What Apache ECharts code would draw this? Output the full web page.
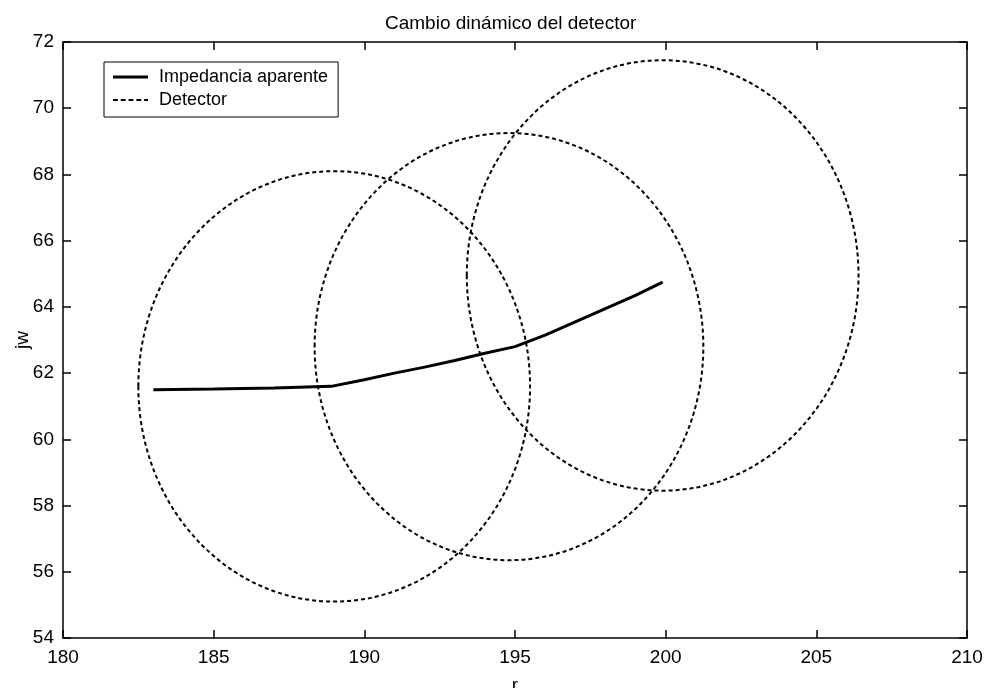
<!DOCTYPE html>
<html>
<head>
<meta charset="utf-8">
<script src="https://cdn.jsdelivr.net/npm/echarts@6/dist/echarts.min.js"></script>
<style>
  html, body { margin: 0; padding: 0; background: #fff; }
  #chart { width: 987px; height: 688px; }
</style>
</head>
<body>
<div id="chart"></div>
<script>
// Apparent impedance trajectory (r, jw)
const impedanciaR  = [183.0, 185.0, 187.0, 188.9, 190.0, 191.0, 192.0, 193.0, 194.0, 195.0, 196.0, 197.0, 198.0, 199.0, 199.9];
const impedanciaJw = [61.50, 61.52, 61.55, 61.60, 61.80, 62.00, 62.18, 62.38, 62.60, 62.80, 63.15, 63.55, 63.95, 64.35, 64.75];

// Detector characteristic circles: centre (r, jw) and radius
const detectorR      = [189.0, 194.8, 199.9];
const detectorJw     = [61.6, 62.8, 64.95];
const detectorRadius = [6.5, 6.45, 6.5];

// Axis ticks
const xTicks = [180, 185, 190, 195, 200, 205, 210];
const yTicks = [54, 56, 58, 60, 62, 64, 66, 68, 70, 72];

const FONT = '"Liberation Sans", Arial, sans-serif';
const FS = 19;

const lineData = impedanciaR.map((r, i) => [r, impedanciaJw[i]]);
const circleData = detectorR.map((r, i) => [r, detectorJw[i], detectorRadius[i]]);

const baseX = {
  type: 'value',
  min: xTicks[0], max: xTicks[xTicks.length - 1], interval: 5,
  axisLine: { show: true, onZero: false, lineStyle: { color: '#000', width: 1.5 } },
  axisTick: { show: true, inside: true, length: 8, lineStyle: { color: '#000', width: 1.5 } },
  splitLine: { show: false }
};
const baseY = {
  type: 'value',
  min: yTicks[0], max: yTicks[yTicks.length - 1], interval: 2,
  axisLine: { show: true, onZero: false, lineStyle: { color: '#000', width: 1.5 } },
  axisTick: { show: true, inside: true, length: 8, lineStyle: { color: '#000', width: 1.5 } },
  splitLine: { show: false }
};

const dashIcon = 'path://M0,0h5v2h-5z M8,0h5v2h-5z M16,0h5v2h-5z M24,0h5v2h-5z M32,0h4v2h-4z';
const solidIcon = 'path://M0,0h36v3h-36z';

const chart = echarts.init(document.getElementById('chart'), null, { renderer: 'canvas' });
chart.setOption({
  backgroundColor: '#fff',
  animation: false,
  textStyle: { fontFamily: FONT },
  title: {
    text: 'Cambio dinámico del detector',
    left: 380, top: 9,
    textStyle: { fontFamily: FONT, fontSize: FS, fontWeight: 'normal', color: '#000' }
  },
  legend: {
    orient: 'vertical',
    left: 104, top: 62,
    padding: [5, 10, 7, 9],
    itemGap: 3,
    itemWidth: 35, itemHeight: 3,
    borderColor: '#000', borderWidth: 1,
    backgroundColor: '#fff',
    textStyle: { fontFamily: FONT, fontSize: 18, color: '#000', lineHeight: 20, padding: [0, 0, 0, 6] },
    data: [
      { name: 'Impedancia aparente', icon: solidIcon, itemStyle: { color: '#000' } },
      { name: 'Detector', icon: dashIcon, itemStyle: { color: '#000' } }
    ]
  },
  grid: { left: 63, right: 20, top: 42, bottom: 50, containLabel: false, outerBoundsMode: 'none' },
  xAxis: [
    Object.assign({}, baseX, {
      position: 'bottom',
      name: 'r', nameLocation: 'middle', nameGap: 38, nameMoveOverlap: false,
      nameTextStyle: { fontFamily: FONT, fontSize: FS, color: '#000' },
      axisLabel: { show: true, showMinLabel: true, showMaxLabel: true, margin: 10, fontFamily: FONT, fontSize: FS, color: '#000' }
    }),
    Object.assign({}, baseX, { position: 'top', axisLabel: { show: false } })
  ],
  yAxis: [
    Object.assign({}, baseY, {
      position: 'left',
      name: 'jw', nameLocation: 'middle', nameGap: 31, nameMoveOverlap: false,
      nameTextStyle: { fontFamily: FONT, fontSize: FS, color: '#000' },
      axisLabel: { show: true, showMinLabel: true, showMaxLabel: true, margin: 9, fontFamily: FONT, fontSize: FS, color: '#000' }
    }),
    Object.assign({}, baseY, { position: 'right', axisLabel: { show: false } })
  ],
  series: [
    {
      name: 'Impedancia aparente',
      type: 'line',
      xAxisIndex: 0, yAxisIndex: 0,
      data: lineData,
      showSymbol: false,
      smooth: false,
      lineStyle: { color: '#000', width: 3 },
      itemStyle: { color: '#000' },
      z: 3
    },
    {
      name: 'Detector',
      type: 'custom',
      xAxisIndex: 0, yAxisIndex: 0,
      data: circleData,
      itemStyle: { color: '#000' },
      renderItem: function (params, api) {
        const c = api.coord([api.value(0), api.value(1)]);
        const s = api.size([api.value(2), api.value(2)]);
        return {
          type: 'ellipse',
          shape: { cx: c[0], cy: c[1], rx: s[0], ry: s[1] },
          style: { fill: null, stroke: '#000', lineWidth: 2, lineDash: [4, 3] }
        };
      },
      z: 2
    }
  ]
});
</script>
</body>
</html>
